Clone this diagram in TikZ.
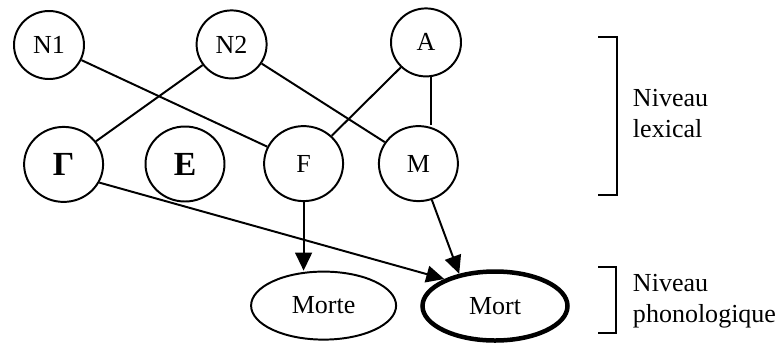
\documentclass[tikz,border=0pt]{standalone}
\usepackage{fontspec}
\setmainfont{Liberation Serif}
\usetikzlibrary{shapes.geometric,arrows.meta}

\begin{document}
\begin{tikzpicture}[line width=1.4pt, font=\fontsize{18.5}{21.5}\selectfont,
		>={Triangle[length=0.45cm,width=0.42cm]},
		top/.style={ellipse, draw, inner sep=0pt, minimum width=1.75cm, minimum height=1.7cm},
		mid/.style={ellipse, draw, inner sep=0pt, minimum width=1.975cm, minimum height=1.875cm},
		word/.style={ellipse, draw, inner sep=0pt, minimum width=3.625cm, minimum height=1.7cm},
		greek/.style={font=\fontsize{24}{28}\selectfont\bfseries},
		level/.style={anchor=west, align=left, inner sep=0pt}]
		\useasboundingbox (0,0) rectangle (19.525,-8.625);
		% lexical units
		\node[top] (n1) at (1.225,-1.125) {N1};
		\node[top] (n2) at (5.79,-1.11) {N2};
		\node[top] (a) at (10.65,-1.06) {A};
		\node[mid, greek] (g) at (1.59,-4.11) {Γ};
		\node[mid, greek] (e) at (4.625,-4.1) {Ε};
		\node[mid] (f) at (7.59,-4.09) {F};
		\node[mid] (m) at (10.46,-4.09) {M};
		% phonological forms
		\node[word] (morte) at (8.09,-7.64) {Morte};
		\node[word, line width=3.2pt, minimum height=1.725cm] (mort) at (12.375,-7.65) {Mort};
		% links
		\draw (n1) -- (f);
		\draw (n2) -- (g);
		\draw (n2) -- (m);
		\draw (a) -- (f);
		\draw (a.-81) -- (a.-81 |- m.north);
		\draw[->] (g.-27) -- (mort.152);
		\draw[->] (f.south) -- (f.south |- morte.north);
		\draw[->] (m) -- (mort.138);
		% levels
		\draw (14.95,-0.925) -- (15.425,-0.925) -- (15.425,-4.875) -- (14.95,-4.875);
		\node[level] (lex) at (15.8,-2.84) {Niveau\\lexical};
		\draw (14.95,-6.675) -- (15.4,-6.675) -- (15.4,-8.325) -- (14.95,-8.325);
		\node[level] (phon) at (15.8,-7.53) {Niveau\\phonologique};
	\end{tikzpicture}
\end{document}
